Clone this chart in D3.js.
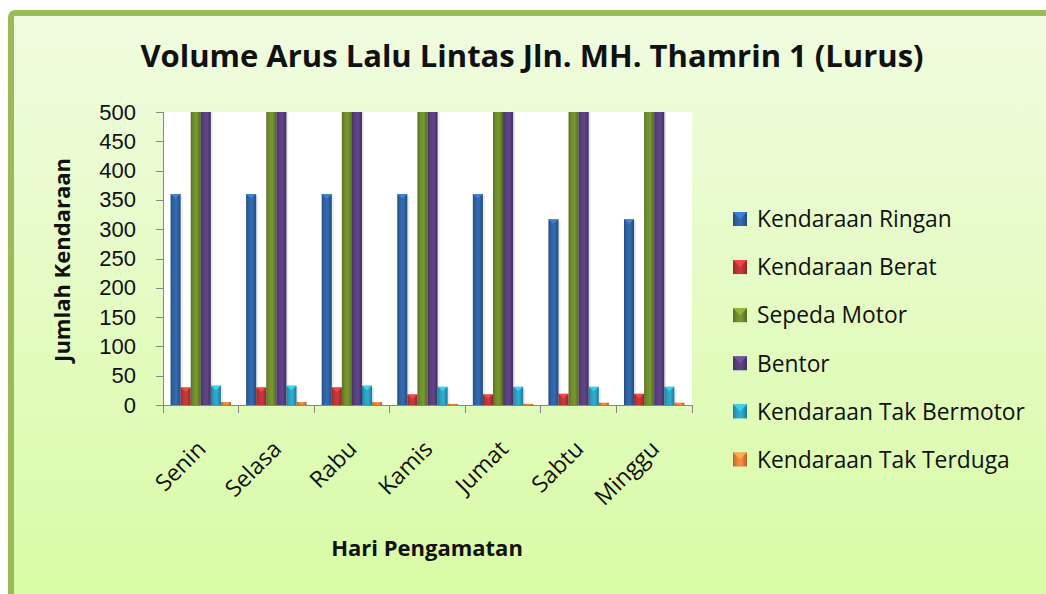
<!DOCTYPE html>
<html>
<head>
<meta charset="utf-8">
<script src="https://d3js.org/d3.v7.min.js"></script>
<style>
    body { margin: 0; background: #fff; }
    svg { display: block; font-family: "Open Sans", Lato, sans-serif; }
    .axis path, .axis line { stroke: #868686; shape-rendering: crispEdges; }
    .axis text { fill: #111; font-size: 22px; }
    .legend text { fill: #111; font-size: 22.8px; }
</style>
</head>
<body>
<svg id="chart"></svg>
<script>
    var days = ["Senin", "Selasa", "Rabu", "Kamis", "Jumat", "Sabtu", "Minggu"];
    var seriesNames = ["Kendaraan Ringan", "Kendaraan Berat", "Sepeda Motor", "Bentor", "Kendaraan Tak Bermotor", "Kendaraan Tak Terduga"];
    var seriesColors = ["#2f62a3", "#bb3435", "#6e8c2c", "#583f7e", "#2a9fbf", "#e5823a"];

    // values; motor and bentor run past the 500 limit of the axis
    var ringan = [360, 360, 360, 360, 360, 317, 317];
    var berat = [30, 30, 30, 18, 18, 19, 19];
    var motor = [1850, 1850, 1850, 1700, 1700, 1600, 1600];
    var bentor = [620, 620, 620, 600, 600, 580, 580];
    var takBermotor = [33, 33, 33, 31, 31, 31, 31];
    var takTerduga = [5, 5, 5, 2, 2, 4, 4];
    var yTicks = [0, 50, 100, 150, 200, 250, 300, 350, 400, 450, 500];

    var seriesValues = [ringan, berat, motor, bentor, takBermotor, takTerduga];

    var width = 1046, height = 594;
    var plot = {left: 163, right: 692, top: 112, bottom: 405};

    var svg = d3.select("#chart")
        .attr("width", width)
        .attr("height", height);

    var defs = svg.append("defs");

    var bg = defs.append("linearGradient")
        .attr("id", "bg")
        .attr("x1", 0).attr("y1", 0).attr("x2", 0).attr("y2", 1);
    bg.append("stop").attr("offset", "0%").attr("stop-color", "#f0fce0");
    bg.append("stop").attr("offset", "100%").attr("stop-color", "#d7fba2");

    // horizontal shading so the bars look like the bevelled 3D columns
    seriesColors.forEach(function(c, i) {
        var g = defs.append("linearGradient")
            .attr("id", "bar" + i)
            .attr("x1", 0).attr("y1", 0).attr("x2", 1).attr("y2", 0);
        g.append("stop").attr("offset", "0%").attr("stop-color", d3.color(c).darker(0.7));
        g.append("stop").attr("offset", "25%").attr("stop-color", c);
        g.append("stop").attr("offset", "60%").attr("stop-color", d3.color(c).brighter(0.25));
        g.append("stop").attr("offset", "100%").attr("stop-color", d3.color(c).darker(0.8));
    });

    defs.append("clipPath")
        .attr("id", "plotclip")
        .append("rect")
        .attr("x", plot.left)
        .attr("y", plot.top)
        .attr("width", plot.right - plot.left)
        .attr("height", plot.bottom - plot.top);

    // chart frame, cut off by the right and bottom edges of the picture
    svg.append("rect")
        .attr("x", 11)
        .attr("y", 13)
        .attr("width", width + 20)
        .attr("height", height + 20)
        .attr("rx", 4)
        .attr("fill", "url(#bg)")
        .attr("stroke", "#9bbb59")
        .attr("stroke-width", 6);

    svg.append("rect")
        .attr("x", plot.left)
        .attr("y", plot.top)
        .attr("width", plot.right - plot.left)
        .attr("height", plot.bottom - plot.top)
        .attr("fill", "#fff");

    var x0 = d3.scaleBand()
        .domain(days)
        .range([plot.left, plot.right]);

    var x1 = d3.scaleBand()
        .domain(d3.range(seriesNames.length))
        .range([0, x0.bandwidth()])
        .paddingInner(0)
        .paddingOuter(0.75);

    var y = d3.scaleLinear()
        .domain([0, 500])
        .range([plot.bottom, plot.top]);

    var bars = [];
    days.forEach(function(d, i) {
        seriesValues.forEach(function(s, k) {
            bars.push({day: d, k: k, value: s[i]});
        });
    });

    var barLayer = svg.append("g").attr("clip-path", "url(#plotclip)");

    barLayer.selectAll(".shadow")
        .data(bars)
        .enter().append("rect")
        .attr("class", "shadow")
        .attr("x", function(d) { return x0(d.day) + x1(d.k) + 2; })
        .attr("y", function(d) { return y(d.value) + 2; })
        .attr("width", x1.bandwidth())
        .attr("height", function(d) { return y(0) - y(d.value); })
        .attr("fill", "#000")
        .attr("opacity", 0.08);

    barLayer.selectAll(".bar")
        .data(bars)
        .enter().append("rect")
        .attr("class", "bar")
        .attr("x", function(d) { return x0(d.day) + x1(d.k); })
        .attr("y", function(d) { return y(d.value); })
        .attr("width", x1.bandwidth())
        .attr("height", function(d) { return y(0) - y(d.value); })
        .attr("fill", function(d) { return "url(#bar" + d.k + ")"; });

    // bevel cap at the top of each column
    barLayer.selectAll(".cap")
        .data(bars.filter(function(d) { return d.value < 500 && y(0) - y(d.value) > 6; }))
        .enter().append("path")
        .attr("class", "cap")
        .attr("d", function(d) {
            var bx = x0(d.day) + x1(d.k), by = y(d.value), w = x1.bandwidth();
            return "M" + bx + "," + by + "L" + (bx + w) + "," + by + "L" + (bx + w / 2) + "," + (by + w * 0.45) + "Z";
        })
        .attr("fill", function(d) { return d3.color(seriesColors[d.k]).brighter(0.9); })
        .attr("opacity", 0.85);

    var yAxis = d3.axisLeft(y)
        .tickValues(yTicks)
        .tickSize(7)
        .tickPadding(20);

    svg.append("g")
        .attr("class", "axis")
        .attr("transform", "translate(" + plot.left + ",0)")
        .call(yAxis)
        .call(function(g) { g.select(".domain").attr("d", "M0," + plot.top + "V" + plot.bottom); });

    var xAxis = svg.append("g")
        .attr("class", "axis")
        .attr("transform", "translate(0," + plot.bottom + ")");

    xAxis.append("line")
        .attr("x1", plot.left)
        .attr("x2", plot.right)
        .attr("y1", 0)
        .attr("y2", 0);

    xAxis.selectAll(".tick")
        .data(days.concat([null]))
        .enter().append("line")
        .attr("class", "tick")
        .attr("x1", function(d) { return d ? x0(d) : plot.right; })
        .attr("x2", function(d) { return d ? x0(d) : plot.right; })
        .attr("y1", 0)
        .attr("y2", 8);

    xAxis.selectAll(".label")
        .data(days)
        .enter().append("text")
        .attr("class", "label")
        .attr("text-anchor", "end")
        .style("font-size", "23px")
        .attr("transform", function(d) {
            return "translate(" + (x0(d) + x0.bandwidth() / 2 - 5) + ",34) rotate(-45)";
        })
        .attr("dy", "0.7em")
        .text(function(d) { return d; });

    svg.append("text")
        .attr("x", 532)
        .attr("y", 67)
        .attr("text-anchor", "middle")
        .attr("font-size", 31)
        .attr("font-weight", "bold")
        .attr("fill", "#111")
        .text("Volume Arus Lalu Lintas Jln. MH. Thamrin 1 (Lurus)");

    svg.append("text")
        .attr("transform", "translate(70,260) rotate(-90)")
        .attr("text-anchor", "middle")
        .attr("font-size", 22)
        .attr("font-weight", "bold")
        .attr("fill", "#111")
        .text("Jumlah Kendaraan");

    svg.append("text")
        .attr("x", 427)
        .attr("y", 556)
        .attr("text-anchor", "middle")
        .attr("font-size", 22)
        .attr("font-weight", "bold")
        .attr("fill", "#111")
        .text("Hari Pengamatan");

    var legend = svg.append("g")
        .attr("class", "legend")
        .selectAll("g")
        .data(seriesNames)
        .enter().append("g")
        .attr("transform", function(d, i) { return "translate(733," + (219 + i * 48.1) + ")"; });

    legend.append("rect")
        .attr("x", 0)
        .attr("y", -7)
        .attr("width", 14)
        .attr("height", 14)
        .attr("fill", function(d, i) { return "url(#bar" + i + ")"; });

    legend.append("path")
        .attr("d", "M0,-7L14,-7L7,0Z")
        .attr("fill", function(d, i) { return d3.color(seriesColors[i]).brighter(0.9); })
        .attr("opacity", 0.8);

    legend.append("text")
        .attr("x", 24)
        .attr("dy", "0.36em")
        .text(function(d) { return d; });
</script>
</body>
</html>
